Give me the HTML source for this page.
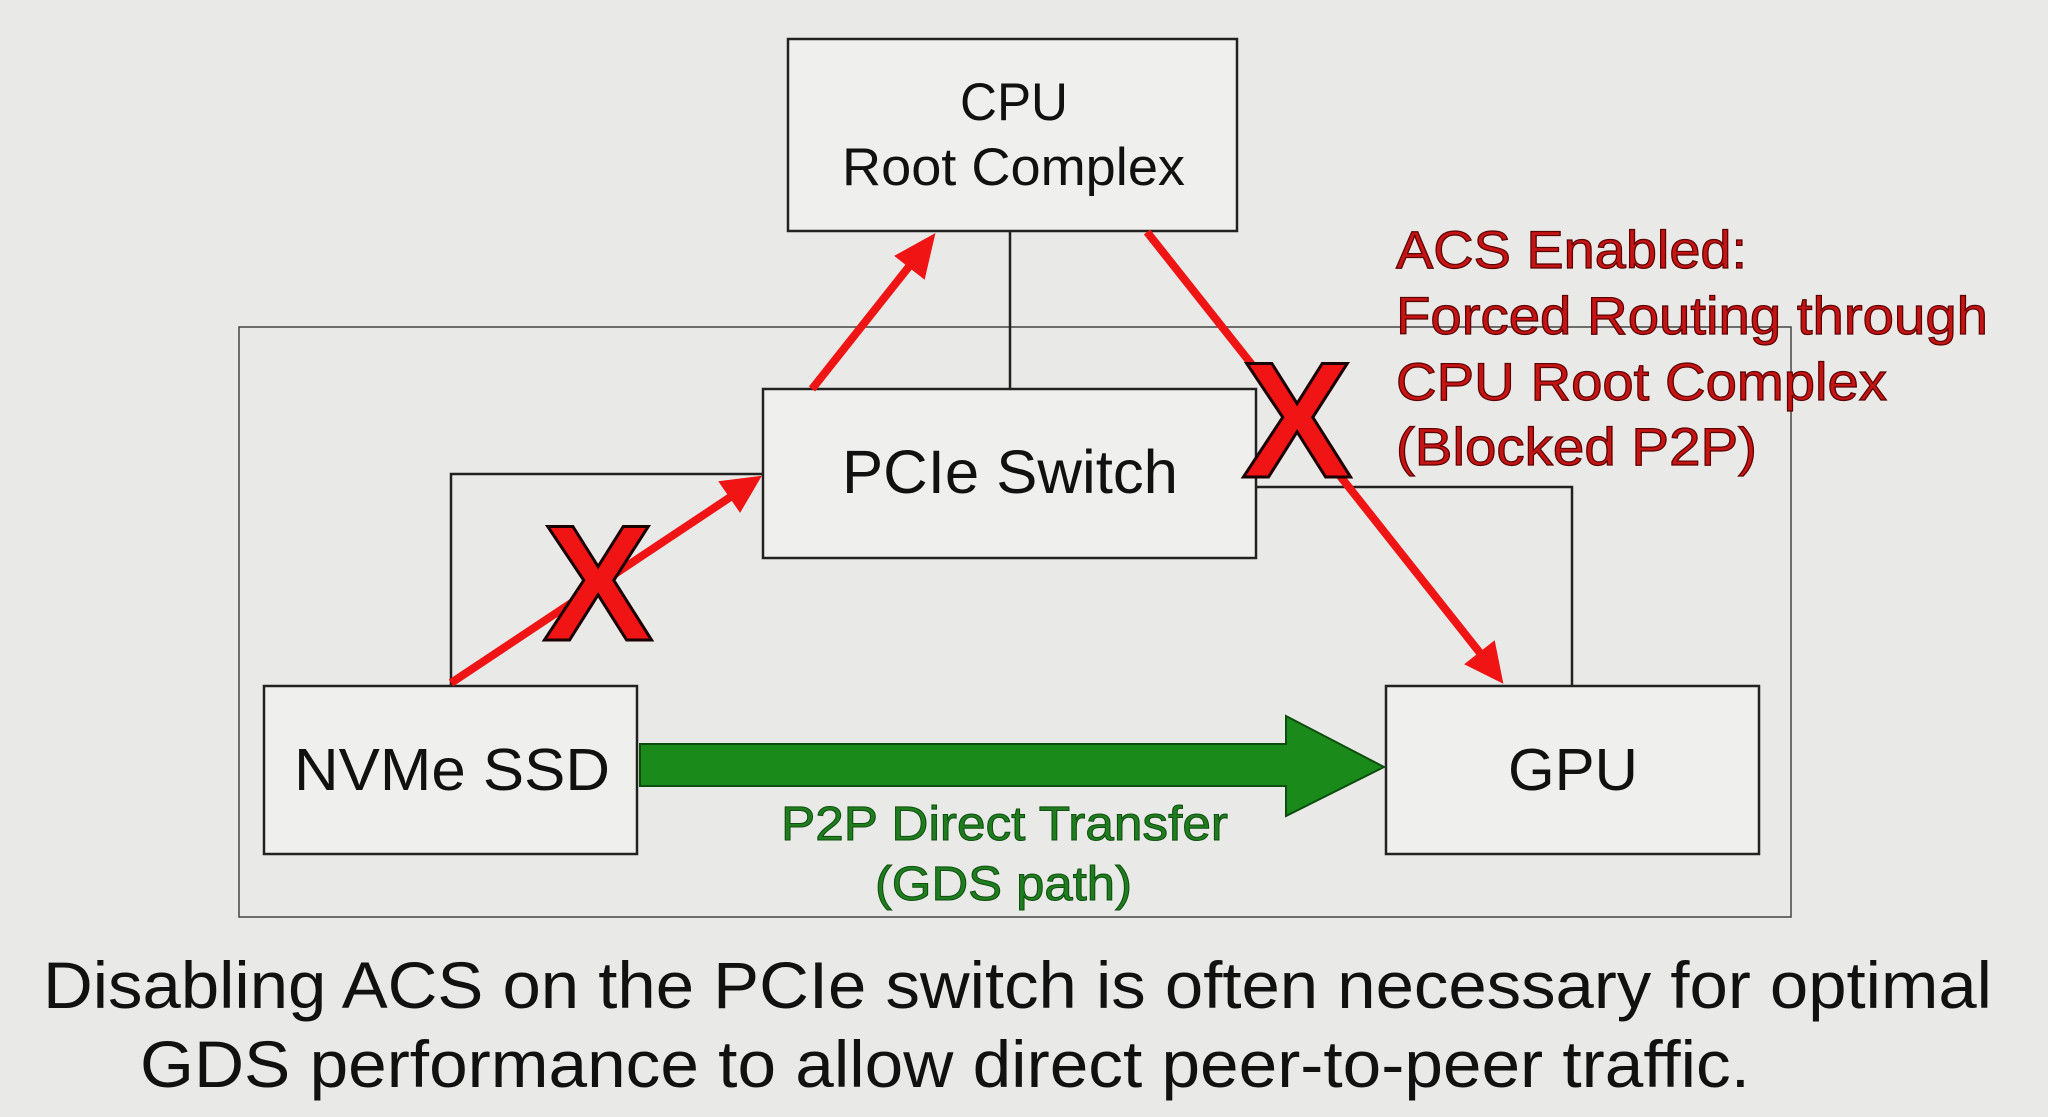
<!DOCTYPE html>
<html><head><meta charset="utf-8"><style>
html,body{margin:0;padding:0;background:#e9e9e7;}
svg{display:block}
</style></head><body>
<svg width="2048" height="1117" viewBox="0 0 2048 1117" xmlns="http://www.w3.org/2000/svg" font-family="Liberation Sans, sans-serif">
<rect width="2048" height="1117" fill="#e9e9e7"/>
<g fill="none" stroke="#222" stroke-width="2.5">
<rect x="239" y="327" width="1552" height="590" stroke-width="1.5" stroke="#444"/>
<line x1="1010" y1="231" x2="1010" y2="389"/>
<polyline points="451,686 451,474 763,474"/>
<polyline points="1256,487 1572,487 1572,686"/>
</g>
<g fill="#efefed" stroke="#222" stroke-width="2.5">
<rect x="788" y="39" width="449" height="192"/>
<rect x="763" y="389" width="493" height="169"/>
<rect x="264" y="686" width="373" height="168"/>
<rect x="1386" y="686" width="373" height="168"/>
</g>
<g fill="#111" lengthAdjust="spacingAndGlyphs">
<text x="960" y="120" font-size="53" textLength="108" lengthAdjust="spacingAndGlyphs">CPU</text>
<text x="842" y="185" font-size="53" textLength="343" lengthAdjust="spacingAndGlyphs">Root Complex</text>
<text x="842" y="493" font-size="61" textLength="336" lengthAdjust="spacingAndGlyphs">PCIe Switch</text>
<text x="294" y="790" font-size="59" textLength="316" lengthAdjust="spacingAndGlyphs">NVMe SSD</text>
<text x="1508" y="790" font-size="59" textLength="130" lengthAdjust="spacingAndGlyphs">GPU</text>
</g>
<polygon points="640,744 1286,744 1286,716 1384,767 1286,816 1286,786 640,786" fill="#1a8a1a" stroke="#0d4d0d" stroke-width="2"/>
<g fill="#1f7d1f" font-size="48" stroke="#0f4f0f" stroke-width="1">
<text x="781" y="840" textLength="447" lengthAdjust="spacingAndGlyphs">P2P Direct Transfer</text>
<text x="875" y="900" textLength="257" lengthAdjust="spacingAndGlyphs">(GDS path)</text>
</g>
<g stroke="#f01414" stroke-width="8" fill="#f01414">
<line x1="812" y1="389" x2="915" y2="259"/>
<polygon points="934,235 896,256 924,278" stroke-width="2"/>
<line x1="1147" y1="232" x2="1484" y2="658"/>
<polygon points="1502,682 1466,664 1494,642" stroke-width="2"/>
<line x1="451" y1="683" x2="735" y2="494"/>
<polygon points="760,477 720,482 740,511" stroke-width="2"/>
</g>
<g font-size="165" font-weight="bold" fill="#f01414" stroke="#1a0000" stroke-width="3" text-anchor="middle">
<text x="598" y="640">X</text>
<text x="1297" y="477">X</text>
</g>
<g fill="#c41414" font-size="53" stroke="#5a0000" stroke-width="1.2">
<text x="1396" y="268" textLength="351" lengthAdjust="spacingAndGlyphs">ACS Enabled:</text>
<text x="1396" y="334" textLength="592" lengthAdjust="spacingAndGlyphs">Forced Routing through</text>
<text x="1396" y="400" textLength="491" lengthAdjust="spacingAndGlyphs">CPU Root Complex</text>
<text x="1396" y="465" textLength="361" lengthAdjust="spacingAndGlyphs">(Blocked P2P)</text>
</g>
<g fill="#111" font-size="66">
<text x="43" y="1008" textLength="1949" lengthAdjust="spacingAndGlyphs">Disabling ACS on the PCIe switch is often necessary for optimal</text>
<text x="140" y="1087" textLength="1610" lengthAdjust="spacingAndGlyphs">GDS performance to allow direct peer-to-peer traffic.</text>
</g>
</svg>
</body></html>
